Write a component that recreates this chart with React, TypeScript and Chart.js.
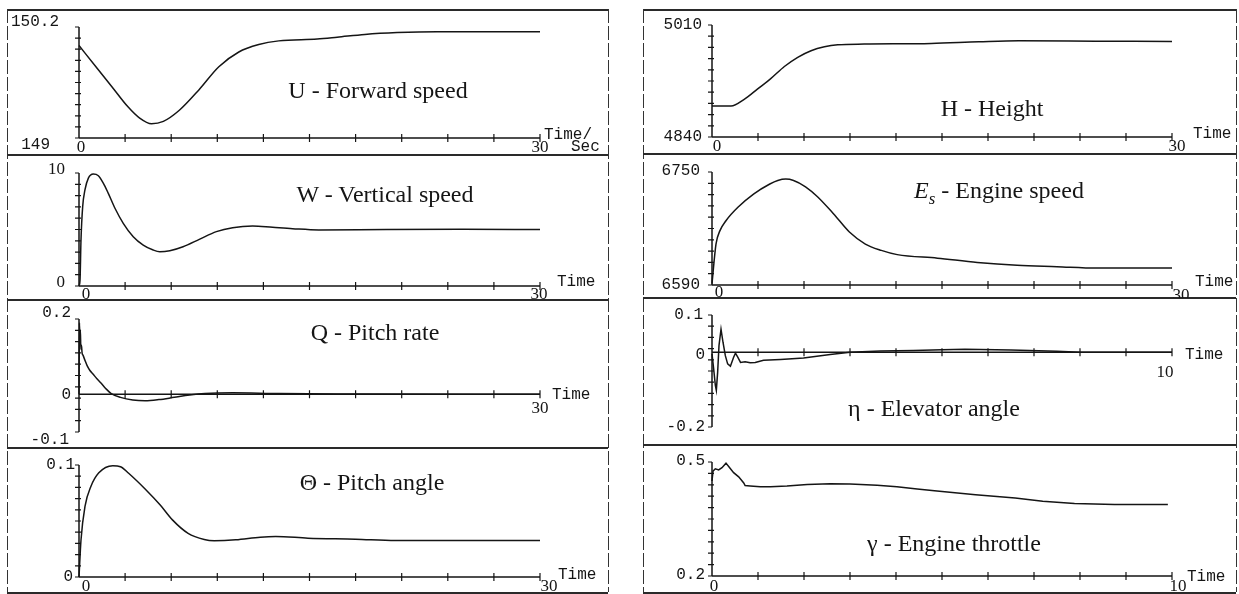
import React, { useEffect, useRef } from 'react';
import { Chart, registerables } from 'chart.js';

Chart.register(...registerables);

// ---------------- data ----------------
const uTime = [0, 1.1, 2.14, 3.17, 3.95, 4.72, 5.49, 6.53, 7.8, 9.1, 10.4, 11.7, 13.0, 15.5, 16.8, 18.6, 20.7, 23.3, 30];
const uSpeed = [150.0, 149.77, 149.555, 149.34, 149.215, 149.154, 149.18, 149.3, 149.52, 149.77, 149.93, 150.01, 150.05, 150.07, 150.09, 150.12, 150.14, 150.15, 150.15];

const wTime = [0, 0.065, 0.13, 0.24, 0.39, 0.61, 0.93, 1.26, 1.58, 1.9, 2.34, 2.88, 3.53, 4.18, 4.83, 5.26, 5.91, 6.77, 7.86, 8.94, 10.0, 11.3, 12.6, 13.9, 15.6, 20, 25, 30];
const wSpeed = [0, 0.5, 4.07, 7.03, 8.52, 9.55, 9.91, 9.76, 9.11, 8.22, 6.88, 5.55, 4.36, 3.62, 3.18, 3.03, 3.12, 3.47, 4.15, 4.81, 5.16, 5.31, 5.19, 5.07, 4.96, 5.0, 5.02, 5.0];

const qTime = [0, 0.03, 0.06, 0.09, 0.12, 0.16, 0.2, 0.26, 0.4, 0.52, 0.7, 0.91, 1.15, 1.43, 1.75, 2.1, 2.7, 3.5, 4.3, 5.2, 6.2, 7.2, 8.2, 10, 13, 18, 30];
const qRate = [0, 0.19, 0.14, 0.17, 0.12, 0.13, 0.11, 0.104, 0.089, 0.077, 0.064, 0.054, 0.042, 0.03, 0.015, 0.002, -0.008, -0.015, -0.017, -0.014, -0.008, -0.002, 0.002, 0.004, 0.002, 0.001, 0];

const thTime = [0, 0.13, 0.39, 0.78, 1.29, 2.2, 2.7, 3.23, 4.27, 5.3, 6.08, 7.1, 8.15, 8.8, 10.2, 11.8, 12.8, 14.9, 18, 20.6, 30];
const thAngle = [0, 0.033, 0.063, 0.081, 0.093, 0.0994, 0.0985, 0.0926, 0.079, 0.064, 0.051, 0.039, 0.0335, 0.0324, 0.0332, 0.0356, 0.0362, 0.0347, 0.0338, 0.0326, 0.0326];

const hTime = [0, 1.24, 2.1, 2.98, 3.85, 4.72, 5.59, 6.46, 7.33, 8.2, 9.93, 14.3, 17.4, 20, 25, 30];
const hHeight = [4887, 4887, 4897, 4913, 4929, 4947, 4961, 4971, 4977, 4980, 4981, 4982, 4984.5, 4986, 4985.5, 4985];

const esTime = [0, 0.26, 0.52, 0.91, 1.69, 2.73, 3.77, 4.29, 4.81, 5.32, 6.1, 6.88, 7.92, 8.96, 10.0, 11.04, 12.08, 14.7, 17.3, 19.9, 22.5, 25.1, 30];
const esSpeed = [6592, 6648, 6667, 6681, 6700, 6719, 6733, 6738, 6740, 6738, 6729, 6715, 6691, 6665, 6648, 6639, 6633, 6628, 6622, 6618, 6616, 6614, 6614];

const etaTime = [0, 0.036, 0.072, 0.094, 0.123, 0.152, 0.196, 0.239, 0.29, 0.34, 0.4, 0.47, 0.51, 0.56, 0.62, 0.72, 0.83, 0.94, 1.12, 1.49, 1.99, 2.57, 3.0, 3.66, 4.38, 5.0, 5.5, 6.5, 7.5, 8.0, 10];
const etaAngle = [-0.004, -0.044, -0.088, -0.102, -0.053, 0.018, 0.062, 0.027, -0.009, -0.031, -0.037, -0.013, -0.002, -0.013, -0.027, -0.025, -0.028, -0.027, -0.021, -0.019, -0.015, -0.006, 0, 0.0035, 0.005, 0.007, 0.008, 0.006, 0.003, 0, 0];

const gTime = [0, 0.022, 0.072, 0.145, 0.217, 0.304, 0.384, 0.47, 0.58, 0.69, 0.72, 0.83, 1.05, 1.27, 1.63, 2.07, 2.57, 3.0, 3.59, 4.02, 4.46, 4.89, 5.73, 6.59, 7.19, 7.88, 8.75, 9.91];
const gThrottle = [0.45, 0.476, 0.482, 0.479, 0.485, 0.497, 0.485, 0.472, 0.461, 0.445, 0.438, 0.437, 0.435, 0.435, 0.437, 0.441, 0.443, 0.442, 0.439, 0.435, 0.429, 0.424, 0.414, 0.405, 0.397, 0.391, 0.388, 0.388];

// axis ranges and tick labels
const uRange = [149, 150.2];
const wRange = [0, 10];
const qRange = [-0.1, 0.2];
const thRange = [0, 0.1];
const hRange = [4840, 5010];
const esRange = [6590, 6750];
const etaRange = [-0.2, 0.1];
const gRange = [0.2, 0.5];

const uYLabels = ['150.2', '149'];
const wYLabels = ['10', '0'];
const qYLabels = ['0.2', '0', '-0.1'];
const thYLabels = ['0.1', '0'];
const hYLabels = ['5010', '4840'];
const esYLabels = ['6750', '6590'];
const etaYLabels = ['0.1', '0', '-0.2'];
const gYLabels = ['0.5', '0.2'];
const longTimeLabels = ['0', '30'];
const shortTimeLabels = ['0', '10'];
const timeWord = 'Time';

// ---------------- styling / layout ----------------
const INK = '#151515';
const MONO = '16px "Liberation Mono", "DejaVu Sans Mono", monospace';
const SERIF = '17px "Liberation Serif", "DejaVu Serif", serif';
const TITLE_FONT = '"Liberation Serif", "DejaVu Serif", serif';

type Lbl = { text: string; x: number; y: number; dx: number; dy: number; align: CanvasTextAlign; font: string };

interface PanelDef {
  key: string;
  time: number[];
  values: number[];
  xMax: number;
  yMin: number;
  yMax: number;
  xAxisAt: number;
  smooth: boolean;
  cell: [number, number, number, number];
  axis: [number, number, number, number];
  labels: Lbl[];
  title: React.ReactNode;
  titleX: number;
  titleY: number;
}

const L = (text: string, x: number, y: number, dx: number, dy: number, align: CanvasTextAlign, font: string): Lbl => ({ text, x, y, dx, dy, align, font });

const panels: PanelDef[] = [
  {
    key: 'U', time: uTime, values: uSpeed, xMax: 30, yMin: uRange[0], yMax: uRange[1], xAxisAt: uRange[0], smooth: true,
    cell: [7, 9, 608, 155], axis: [79, 27, 540, 138],
    labels: [
      L(uYLabels[0], 0, uRange[1], -20, -5, 'right', MONO),
      L(uYLabels[1], 0, uRange[0], -29, 7, 'right', MONO),
      L(longTimeLabels[0], 0, uRange[0], 2, 10, 'center', SERIF),
      L(longTimeLabels[1], 30, uRange[0], 0, 10, 'center', SERIF),
      L('Time/', 30, uRange[0], 4, -3, 'left', MONO),
      L('Sec', 30, uRange[0], 31, 9, 'left', MONO),
    ],
    title: 'U - Forward speed', titleX: 378, titleY: 90,
  },
  {
    key: 'W', time: wTime, values: wSpeed, xMax: 30, yMin: wRange[0], yMax: wRange[1], xAxisAt: 0, smooth: true,
    cell: [7, 155, 608, 300], axis: [79, 173, 540, 286],
    labels: [
      L(wYLabels[0], 0, wRange[1], -14, -3, 'right', SERIF),
      L(wYLabels[1], 0, wRange[0], -14, -3, 'right', SERIF),
      L(longTimeLabels[0], 0, 0, 7, 9, 'center', SERIF),
      L(longTimeLabels[1], 30, 0, -1, 9, 'center', SERIF),
      L(timeWord, 30, 0, 17, -4, 'left', MONO),
    ],
    title: 'W - Vertical speed', titleX: 385, titleY: 194,
  },
  {
    key: 'Q', time: qTime, values: qRate, xMax: 30, yMin: qRange[0], yMax: qRange[1], xAxisAt: 0, smooth: true,
    cell: [7, 300, 608, 448], axis: [79, 319, 540, 432],
    labels: [
      L(qYLabels[0], 0, qRange[1], -8, -6, 'right', MONO),
      L(qYLabels[1], 0, 0, -8, 0, 'right', MONO),
      L(qYLabels[2], 0, qRange[0], -10, 8, 'right', MONO),
      L(timeWord, 30, 0, 12, 0, 'left', MONO),
      L(longTimeLabels[1], 30, 0, 0, 14, 'center', SERIF),
    ],
    title: 'Q - Pitch rate', titleX: 375, titleY: 332,
  },
  {
    key: 'TH', time: thTime, values: thAngle, xMax: 30, yMin: thRange[0], yMax: thRange[1], xAxisAt: 0, smooth: true,
    cell: [7, 448, 608, 594], axis: [79, 465, 540, 577],
    labels: [
      L(thYLabels[0], 0, thRange[1], -4, 0, 'right', MONO),
      L(thYLabels[1], 0, 0, -6, 0, 'right', MONO),
      L(longTimeLabels[0], 0, 0, 7, 10, 'center', SERIF),
      L(longTimeLabels[1], 30, 0, 9, 10, 'center', SERIF),
      L(timeWord, 30, 0, 18, -2, 'left', MONO),
    ],
    title: 'Θ - Pitch angle', titleX: 372, titleY: 482,
  },
  {
    key: 'H', time: hTime, values: hHeight, xMax: 30, yMin: hRange[0], yMax: hRange[1], xAxisAt: hRange[0], smooth: true,
    cell: [643, 9, 1236, 154], axis: [712, 25, 1172, 137],
    labels: [
      L(hYLabels[0], 0, hRange[1], -10, 0, 'right', MONO),
      L(hYLabels[1], 0, hRange[0], -10, 0, 'right', MONO),
      L(longTimeLabels[0], 0, hRange[0], 5, 10, 'center', SERIF),
      L(longTimeLabels[1], 30, hRange[0], 5, 10, 'center', SERIF),
      L(timeWord, 30, hRange[0], 21, -3, 'left', MONO),
    ],
    title: 'H - Height', titleX: 992, titleY: 108,
  },
  {
    key: 'ES', time: esTime, values: esSpeed, xMax: 30, yMin: esRange[0], yMax: esRange[1], xAxisAt: esRange[0], smooth: true,
    cell: [643, 154, 1236, 298], axis: [712, 172, 1172, 285],
    labels: [
      L(esYLabels[0], 0, esRange[1], -12, -1, 'right', MONO),
      L(esYLabels[1], 0, esRange[0], -12, 0, 'right', MONO),
      L(longTimeLabels[0], 0, esRange[0], 7, 8, 'center', SERIF),
      L(longTimeLabels[1], 30, esRange[0], 9, 11, 'center', SERIF),
      L(timeWord, 30, esRange[0], 23, -3, 'left', MONO),
    ],
    title: (
      <span>
        <i>E</i>
        <sub style={{ fontStyle: 'italic', fontSize: '70%' }}>s</sub> - Engine speed
      </span>
    ),
    titleX: 999, titleY: 193,
  },
  {
    key: 'ETA', time: etaTime, values: etaAngle, xMax: 10, yMin: etaRange[0], yMax: etaRange[1], xAxisAt: 0, smooth: false,
    cell: [643, 298, 1236, 445], axis: [712, 315, 1172, 427],
    labels: [
      L(etaYLabels[0], 0, etaRange[1], -9, 0, 'right', MONO),
      L(etaYLabels[1], 0, 0, -7, 2, 'right', MONO),
      L(etaYLabels[2], 0, etaRange[0], -7, 0, 'right', MONO),
      L(timeWord, 10, 0, 13, 2, 'left', MONO),
      L(shortTimeLabels[1], 10, 0, -7, 20, 'center', SERIF),
    ],
    title: 'η - Elevator angle', titleX: 934, titleY: 408,
  },
  {
    key: 'G', time: gTime, values: gThrottle, xMax: 10, yMin: gRange[0], yMax: gRange[1], xAxisAt: gRange[0], smooth: false,
    cell: [643, 445, 1236, 594], axis: [712, 462, 1172, 576],
    labels: [
      L(gYLabels[0], 0, gRange[1], -7, -1, 'right', MONO),
      L(gYLabels[1], 0, gRange[0], -7, -1, 'right', MONO),
      L(shortTimeLabels[0], 0, gRange[0], 2, 11, 'center', SERIF),
      L(shortTimeLabels[1], 10, gRange[0], 6, 11, 'center', SERIF),
      L(timeWord, 10, gRange[0], 15, 1, 'left', MONO),
    ],
    title: 'γ - Engine throttle', titleX: 954, titleY: 543,
  },
];

function axesPlugin(p: PanelDef) {
  return {
    id: 'sciAxes' + p.key,
    beforeDatasetsDraw(chart: any) {
      const ctx: CanvasRenderingContext2D = chart.ctx;
      const xs = chart.scales.x;
      const ys = chart.scales.y;
      const x0 = xs.getPixelForValue(0);
      const x1 = xs.getPixelForValue(p.xMax);
      const yT = ys.getPixelForValue(p.yMax);
      const yB = ys.getPixelForValue(p.yMin);
      const yA = ys.getPixelForValue(p.xAxisAt);
      ctx.save();
      ctx.strokeStyle = INK;
      ctx.lineWidth = 1.5;
      ctx.beginPath();
      ctx.moveTo(x0, yT);
      ctx.lineTo(x0, yB);
      ctx.moveTo(x0, yA);
      ctx.lineTo(x1, yA);
      ctx.stroke();
      ctx.lineWidth = 1.2;
      ctx.beginPath();
      for (let i = 0; i <= 10; i++) {
        const py = ys.getPixelForValue(p.yMin + ((p.yMax - p.yMin) * i) / 10);
        const ext = i === 0 || i === 10 ? 0 : 2;
        ctx.moveTo(x0 - 4, py);
        ctx.lineTo(x0 + ext, py);
      }
      for (let i = 1; i <= 10; i++) {
        const px = xs.getPixelForValue((p.xMax * i) / 10);
        ctx.moveTo(px, yA - 4);
        ctx.lineTo(px, yA + 4);
      }
      ctx.stroke();
      ctx.restore();
    },
    afterDatasetsDraw(chart: any) {
      const ctx: CanvasRenderingContext2D = chart.ctx;
      const xs = chart.scales.x;
      const ys = chart.scales.y;
      ctx.save();
      ctx.fillStyle = INK;
      ctx.textBaseline = 'middle';
      for (const l of p.labels) {
        ctx.font = l.font;
        ctx.textAlign = l.align;
        ctx.fillText(l.text, xs.getPixelForValue(l.x) + l.dx, ys.getPixelForValue(l.y) + l.dy);
      }
      ctx.restore();
    },
  };
}

function Panel({ p }: { p: PanelDef }) {
  const ref = useRef<HTMLCanvasElement | null>(null);
  const [cl, ct, cr, cb] = p.cell;
  const [al, at, ar, ab] = p.axis;
  useEffect(() => {
    if (!ref.current) return;
    const chart = new Chart(ref.current, {
      type: 'line',
      data: {
        datasets: [
          {
            data: p.time.map((t, i) => ({ x: t, y: p.values[i] })),
            borderColor: INK,
            borderWidth: 1.5,
            pointRadius: 0,
            fill: false,
            cubicInterpolationMode: p.smooth ? 'monotone' : 'default',
            tension: 0,
            clip: false as any,
          },
        ],
      },
      options: {
        animation: false,
        responsive: false,
        events: [],
        layout: { padding: { left: al - cl, top: at - ct, right: cr - ar, bottom: cb - ab } },
        plugins: { legend: { display: false }, tooltip: { enabled: false }, title: { display: false } },
        scales: {
          x: { type: 'linear', min: 0, max: p.xMax, display: false },
          y: { type: 'linear', min: p.yMin, max: p.yMax, display: false },
        },
      },
      plugins: [axesPlugin(p)],
    } as any);
    return () => chart.destroy();
  }, [p]);
  return (
    <>
      <canvas
        ref={ref}
        width={cr - cl}
        height={cb - ct}
        style={{ position: 'absolute', left: cl, top: ct, width: cr - cl, height: cb - ct }}
      />
      <div
        style={{
          position: 'absolute',
          left: p.titleX,
          top: p.titleY,
          transform: 'translate(-50%, -50%)',
          font: `24px ${TITLE_FONT}`,
          color: INK,
          whiteSpace: 'nowrap',
          lineHeight: 1,
        }}
      >
        {p.title}
      </div>
    </>
  );
}

const DASH_V = 'repeating-linear-gradient(to bottom, #333 0px, #333 14px, transparent 14px, transparent 17px)';

function Frame({ left, right, top, bottom, dividers }: { left: number; right: number; top: number; bottom: number; dividers: number[] }) {
  const line = (k: string, s: React.CSSProperties) => <div key={k} style={{ position: 'absolute', background: '#2a2a2a', ...s }} />;
  return (
    <>
      {line('t', { left, top, width: right - left, height: 2 })}
      {line('b', { left, top: bottom, width: right - left, height: 2 })}
      {line('l', { left, top, width: 1, height: bottom - top, background: DASH_V })}
      {line('r', { left: right, top, width: 1, height: bottom - top, background: DASH_V })}
      {dividers.map((d, i) => line('d' + i, { left, top: d - 1, width: right - left, height: 2 }))}
    </>
  );
}

export default function App() {
  return (
    <div style={{ position: 'fixed', left: 0, top: 0, width: 1239, height: 594, background: '#fff', overflow: 'hidden' }}>
      <Frame left={7} right={608} top={9} bottom={592} dividers={[155, 300, 448]} />
      <Frame left={643} right={1236} top={9} bottom={592} dividers={[154, 298, 445]} />
      {panels.map((p) => (
        <Panel key={p.key} p={p} />
      ))}
    </div>
  );
}
